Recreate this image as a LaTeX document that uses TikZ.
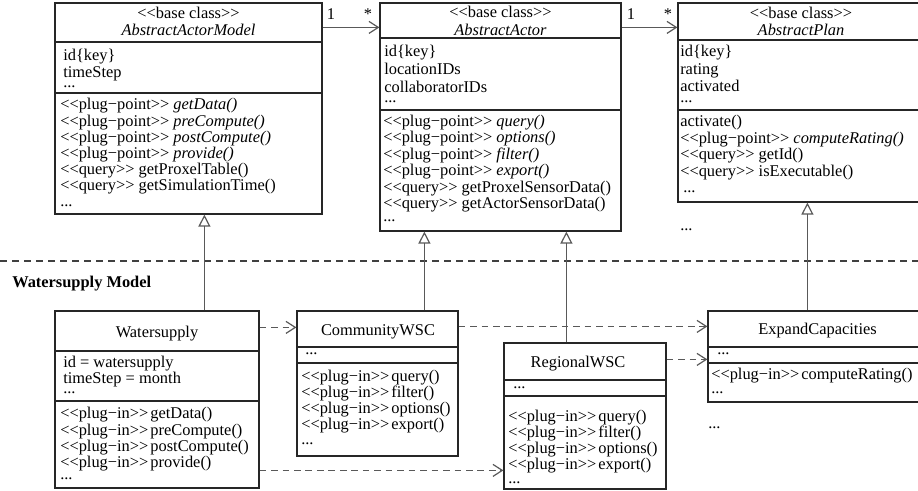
\documentclass[tikz,border=0pt]{standalone}
\usepackage{fontspec}
\setmainfont{Liberation Serif}
\usetikzlibrary{arrows.meta,calc,fit}
\newcommand\fs{\fontsize{12.3}{14}\selectfont}
% stereotype brackets kept as plain << ... >>
\newcommand\stereo[1]{<\kern0pt<#1>\kern0pt>}

\begin{document}
\begin{tikzpicture}[x=0.75pt,y=-0.75pt,
  box/.style={draw=black!85, line width=0.9pt, inner sep=0pt, fill=white},
  comp/.style={draw=black!85, line width=1.4pt},
  t/.style={font=\fs, inner sep=0pt, anchor=base west},
  tc/.style={font=\fs, inner sep=0pt, anchor=base},
  conn/.style={draw=black!65, line width=0.9pt},
  gen/.style={conn, -{Triangle[open, length=9pt, width=9pt, fill=white]}},
  assoc/.style={conn, -{Straight Barb[length=7pt, width=9pt]}},
  dep/.style={assoc, dash pattern=on 5pt off 3.6pt},
  sep/.style={draw=black!75, line width=0.8pt, dash pattern=on 5.2pt off 3.8pt}]
\useasboundingbox (0,0) rectangle (918,491);
\clip (0,0) rectangle (918,491);

% ---------------- framework base classes ----------------
\node[box, fit={(55,3) (322,214)}] (aam) {};
\draw[comp] ($(aam.north west)+(0,40)$) -- ($(aam.north east)+(0,40)$);
\draw[comp] ($(aam.north west)+(0,91)$) -- ($(aam.north east)+(0,91)$);
\node[tc] (aam-st) at (188.5,19) {\stereo{base class}};
\node[tc] (aam-n) at (188.5,36) {\textit{AbstractActorModel}};
\node[t] (aam-a1) at (63,61) {id\{key\}};
\node[t] (aam-a2) at (63,77.5) {timeStep};
\node[t] (aam-a3) at (63,88) {...};
\node[t] (aam-m1) at (60,110) {\stereo{plug−point} \textit{getData()}};
\node[t] (aam-m2) at (60,126.2) {\stereo{plug−point} \textit{preCompute()}};
\node[t] (aam-m3) at (60,142.4) {\stereo{plug−point} \textit{postCompute()}};
\node[t] (aam-m4) at (60,158.6) {\stereo{plug−point} \textit{provide()}};
\node[t] (aam-m5) at (60,174.8) {\stereo{query} getProxelTable()};
\node[t] (aam-m6) at (60,191) {\stereo{query} getSimulationTime()};
\node[t] (aam-m7) at (60,207) {...};

\node[box, fit={(380,3) (621,231)}] (aa) {};
\draw[comp] ($(aa.north west)+(0,36)$) -- ($(aa.north east)+(0,36)$);
\draw[comp] ($(aa.north west)+(0,108)$) -- ($(aa.north east)+(0,108)$);
\node[tc] (aa-st) at (500.5,18) {\stereo{base class}};
\node[tc] (aa-n) at (500.5,36) {\textit{AbstractActor}};
\node[t] (aa-a1) at (384,57) {id\{key\}};
\node[t] (aa-a2) at (384,75) {locationIDs};
\node[t] (aa-a3) at (384,93) {collaboratorIDs};
\node[t] (aa-a4) at (384,103) {...};
\node[t] (aa-m1) at (383,126.5) {\stereo{plug−point} \textit{query()}};
\node[t] (aa-m2) at (383,142.9) {\stereo{plug−point} \textit{options()}};
\node[t] (aa-m3) at (383,159.3) {\stereo{plug−point} \textit{filter()}};
\node[t] (aa-m4) at (383,175.7) {\stereo{plug−point} \textit{export()}};
\node[t] (aa-m5) at (383,192.1) {\stereo{query} getProxelSensorData()};
\node[t] (aa-m6) at (383,208.5) {\stereo{query} getActorSensorData()};
\node[t] (aa-m7) at (383,222) {...};

\node[box, fit={(678,3) (924,202)}] (ap) {};
\draw[comp] ($(ap.north west)+(0,38)$) -- ($(ap.north east)+(0,38)$);
\draw[comp] ($(ap.north west)+(0,108)$) -- ($(ap.north east)+(0,108)$);
\node[tc] (ap-st) at (801,19) {\stereo{base class}};
\node[tc] (ap-n) at (801,36) {\textit{AbstractPlan}};
\node[t] (ap-a1) at (680,57) {id\{key\}};
\node[t] (ap-a2) at (680,75) {rating};
\node[t] (ap-a3) at (680,92) {activated};
\node[t] (ap-a4) at (680,102.5) {...};
\node[t] (ap-m1) at (680,127) {activate()};
\node[t] (ap-m2) at (680,143.5) {\stereo{plug−point} \textit{computeRating()}};
\node[t] (ap-m3) at (680,160) {\stereo{query} getId()};
\node[t] (ap-m4) at (680,176.5) {\stereo{query} isExecutable()};
\node[t] (ap-m5) at (683,193) {...};
\node[t] (ap-more) at (680,231) {...};

% associations between the base classes
\draw[assoc] ($(aam.north east)+(0,25)$) -- ($(aa.north west)+(0,25)$);
\node[t] (aam-mul) at ($(aam.north east)+(4,17)$) {1};
\node[t, anchor=base east] (aa-mul) at ($(aa.north west)+(-7,17)$) {*};
\draw[assoc] ($(aa.north east)+(0,25)$) -- ($(ap.north west)+(0,25)$);
\node[t] (aa-mul2) at ($(aa.north east)+(5,17)$) {1};
\node[t, anchor=base east] (ap-mul) at ($(ap.north west)+(-5,17)$) {*};

% ---------------- model layer ----------------
\draw[sep] (0,261) -- (918,261);
\node[t] (model) at (12,288) {\textbf{Watersupply Model}};

\node[box, fit={(55,311) (259,488)}] (ws) {};
\draw[comp] ($(ws.north west)+(0,41)$) -- ($(ws.north east)+(0,41)$);
\draw[comp] ($(ws.north west)+(0,91)$) -- ($(ws.north east)+(0,91)$);
\node[tc] (ws-n) at (157,338) {Watersupply};
\node[t] (ws-a1) at (63,368) {id = watersupply};
\node[t] (ws-a2) at (63,383.5) {timeStep = month};
\node[t] (ws-a3) at (63,394) {...};
\node[t] (ws-m1) at (60,419) {\stereo{plug−in}\kern1.5pt getData()};
\node[t] (ws-m2) at (60,435.5) {\stereo{plug−in}\kern1.5pt preCompute()};
\node[t] (ws-m3) at (60,452) {\stereo{plug−in}\kern1.5pt postCompute()};
\node[t] (ws-m4) at (60,468) {\stereo{plug−in}\kern1.5pt provide()};
\node[t] (ws-m5) at (60,480) {...};

\node[box, fit={(297,311) (458,456)}] (cw) {};
\draw[comp] ($(cw.north west)+(0,37)$) -- ($(cw.north east)+(0,37)$);
\draw[comp] ($(cw.north west)+(0,53)$) -- ($(cw.north east)+(0,53)$);
\node[tc] (cw-n) at (378,336) {CommunityWSC};
\node[t] (cw-a1) at (305,355) {...};
\node[t] (cw-m1) at (301,382) {\stereo{plug−in}\kern1.5pt query()};
\node[t] (cw-m2) at (301,398) {\stereo{plug−in}\kern1.5pt filter()};
\node[t] (cw-m3) at (301,414) {\stereo{plug−in}\kern1.5pt options()};
\node[t] (cw-m4) at (301,430) {\stereo{plug−in}\kern1.5pt export()};
\node[t] (cw-m5) at (301,445) {...};

\node[box, fit={(504,343) (666,489)}] (rw) {};
\draw[comp] ($(rw.north west)+(0,38)$) -- ($(rw.north east)+(0,38)$);
\draw[comp] ($(rw.north west)+(0,54)$) -- ($(rw.north east)+(0,54)$);
\node[tc] (rw-n) at (578,368) {RegionalWSC};
\node[t] (rw-a1) at (513,389) {...};
\node[t] (rw-m1) at (508,422) {\stereo{plug−in}\kern1.5pt query()};
\node[t] (rw-m2) at (508,438) {\stereo{plug−in}\kern1.5pt filter()};
\node[t] (rw-m3) at (508,454) {\stereo{plug−in}\kern1.5pt options()};
\node[t] (rw-m4) at (508,470) {\stereo{plug−in}\kern1.5pt export()};
\node[t] (rw-m5) at (508,484) {...};

\node[box, fit={(708,311) (927,402)}] (ec) {};
\draw[comp] ($(ec.north west)+(0,37)$) -- ($(ec.north east)+(0,37)$);
\draw[comp] ($(ec.north west)+(0,53)$) -- ($(ec.north east)+(0,53)$);
\node[tc] (ec-n) at (817.5,335) {ExpandCapacities};
\node[t] (ec-a1) at (717,355) {...};
\node[t] (ec-m1) at (711,380) {\stereo{plug−in}\kern1.5pt computeRating()};
\node[t] (ec-m2) at (711,394) {...};
\node[t] (ec-more) at (708,429) {...};

% generalizations
\coordinate (wsg) at ($(ws.north west)+(150,0)$);
\coordinate (cwg) at ($(cw.north west)+(128,0)$);
\coordinate (rwg) at ($(rw.north west)+(63,0)$);
\coordinate (ecg) at ($(ec.north west)+(100,0)$);
\draw[gen] (wsg) -- (wsg |- aam.south);
\draw[gen] (cwg) -- (cwg |- aa.south);
\draw[gen] (rwg) -- (rwg |- aa.south);
\draw[gen] (ecg) -- (ecg |- ap.south);

% dependencies
\draw[dep] ($(ws.north east)+(0,17)$) -- ($(cw.north west)+(0,17)$);
\draw[dep] ($(cw.north east)+(0,16)$) -- ($(ec.north west)+(0,16)$);
\draw[dep] ($(rw.north east)+(0,17)$) -- ($(ec.north west)+(0,49)$);
\draw[dep] ($(ws.north east)+(0,160)$) -- ($(rw.north west)+(0,128)$);
\end{tikzpicture}
\end{document}
